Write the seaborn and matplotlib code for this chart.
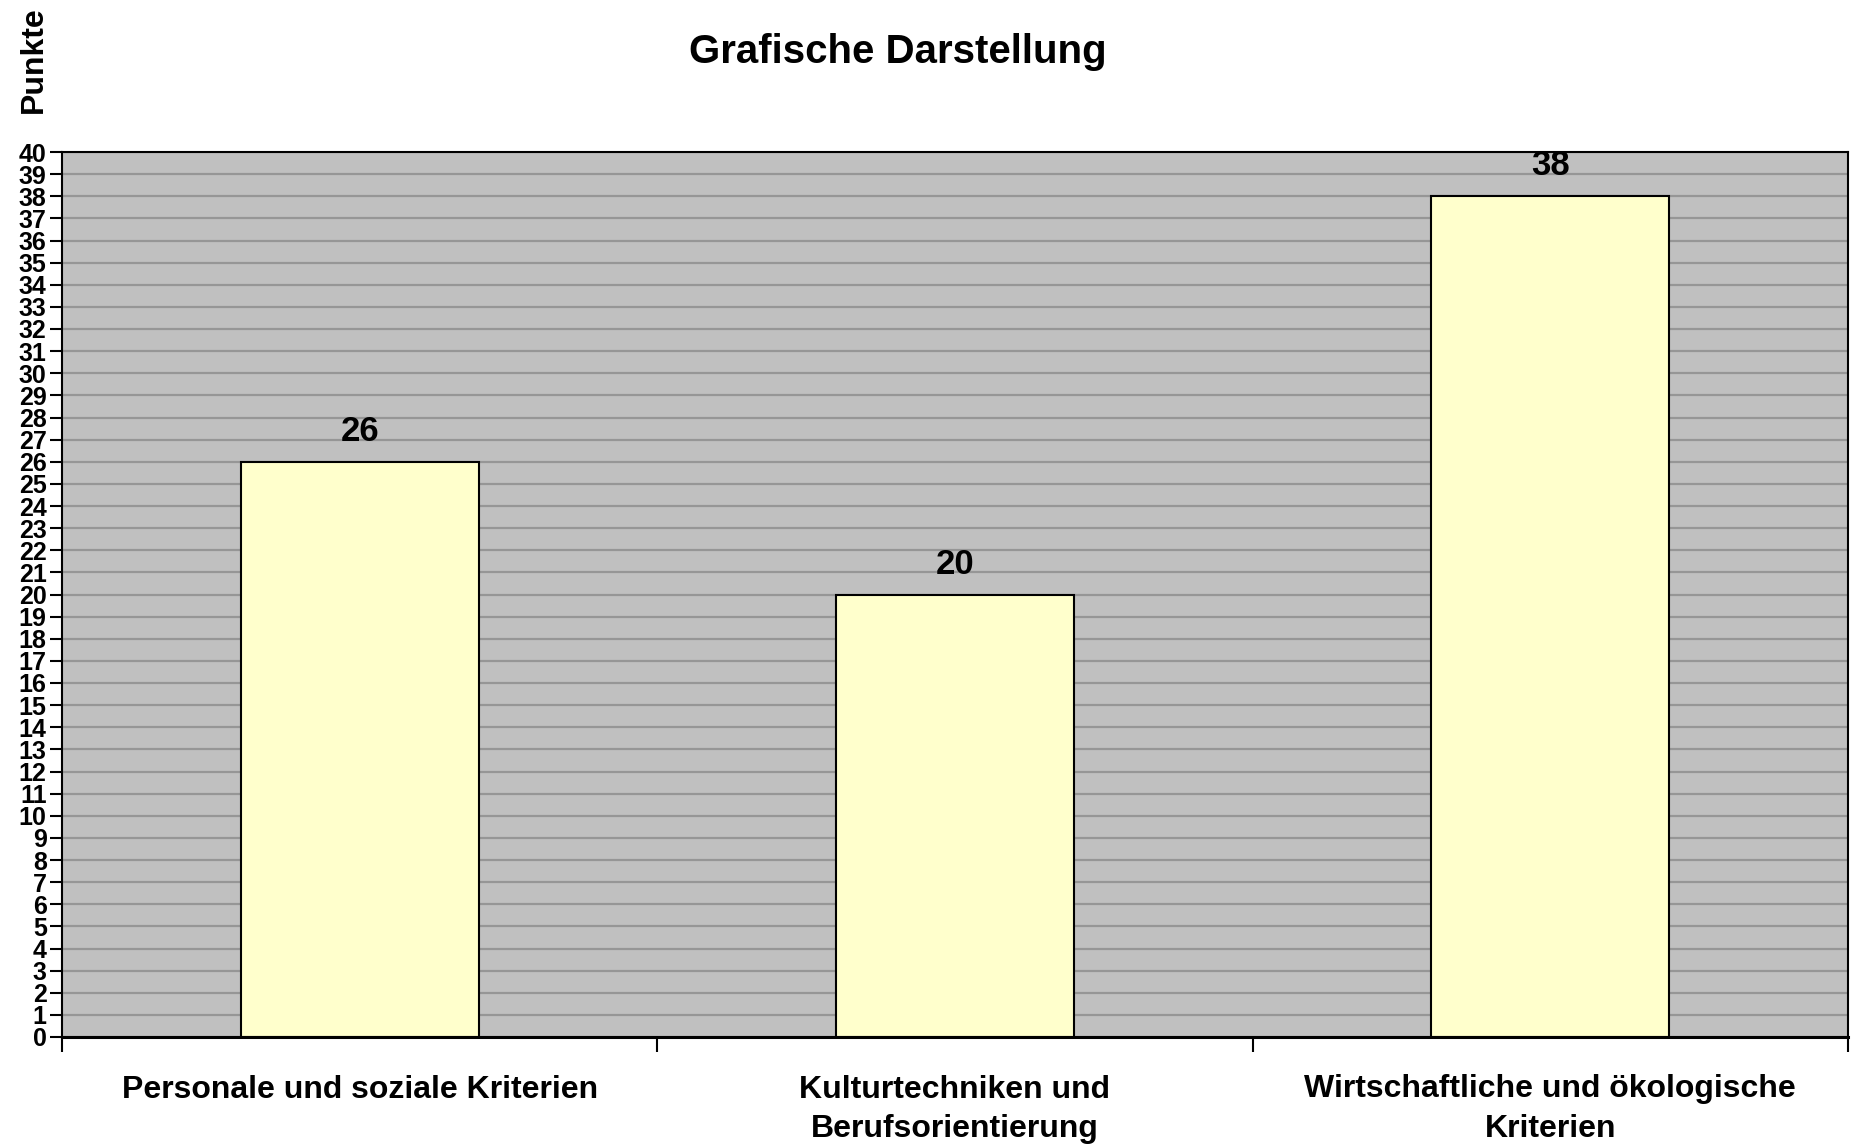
import pandas as pd
import numpy as np
import matplotlib
matplotlib.use("Agg")
import matplotlib.pyplot as plt
import seaborn as sns

# data
categories = ['Personale und soziale Kriterien',
              'Kulturtechniken und\nBerufsorientierung',
              'Wirtschaftliche und ökologische\nKriterien']
punkte = [26, 20, 38]
y_ticks = list(range(0, 41))

df = pd.DataFrame({'Kategorie': categories, 'Punkte': punkte})

sns.set_style('white')
plt.rcParams['font.family'] = ['Liberation Sans', 'DejaVu Sans']
plt.rcParams['font.weight'] = 'bold'
plt.rcParams['text.color'] = 'black'
plt.rcParams['xtick.color'] = 'black'
plt.rcParams['ytick.color'] = 'black'

fig = plt.figure(figsize=(18.52, 11.46), dpi=100)
ax = fig.add_axes([62 / 1852, 1 - 1037 / 1146, 1786 / 1852, 885 / 1146])
ax.set_facecolor('#C0C0C0')

# bars
sns.barplot(data=df, x='Kategorie', y='Punkte', ax=ax, width=0.4,
            color='#FFFFCC', saturation=1, edgecolor='black', linewidth=1.5)

# value labels above the bars
for c in ax.containers:
    ax.bar_label(c, fmt='%d', padding=10, fontsize=25, fontweight='bold', color='black')

# y axis, one gridline per point
ax.set_ylim(0, 40)
ax.set_yticks(y_ticks)
ax.set_yticklabels([str(v) for v in y_ticks], fontsize=18, fontweight='bold')
ax.yaxis.grid(True, color='#969696', linewidth=1.6)
ax.set_axisbelow(True)
ax.tick_params(axis='y', direction='out', length=9, width=1.5, pad=2, left=True)

# x axis: labels in the middle, ticks between categories
ax.set_xlim(-0.5, 2.5)
ax.set_xticks([0, 1, 2])
ax.set_xticklabels(categories, fontsize=23, fontweight='bold', linespacing=1.4)
ax.tick_params(axis='x', which='major', length=0, pad=27)
ax.set_xticks([-0.5, 0.5, 1.5, 2.5], minor=True)
ax.tick_params(axis='x', which='minor', direction='out', length=11, width=1.5, bottom=True)
ax.set_xlabel('')
ax.set_ylabel('')

for side in ['top', 'right', 'left']:
    ax.spines[side].set_color('black')
    ax.spines[side].set_linewidth(1.5)
ax.spines['bottom'].set_color('black')
ax.spines['bottom'].set_linewidth(2.2)

# title and axis label
fig.text(898 / 1852, 1 - 63 / 1146, 'Grafische Darstellung', ha='center', va='baseline',
         fontsize=29, fontweight='bold')
fig.text(34 / 1852, 1 - 60 / 1146, 'Punkte', ha='center', va='center', rotation=90,
         fontsize=23, fontweight='bold')

fig.savefig('out.png', dpi=100)
